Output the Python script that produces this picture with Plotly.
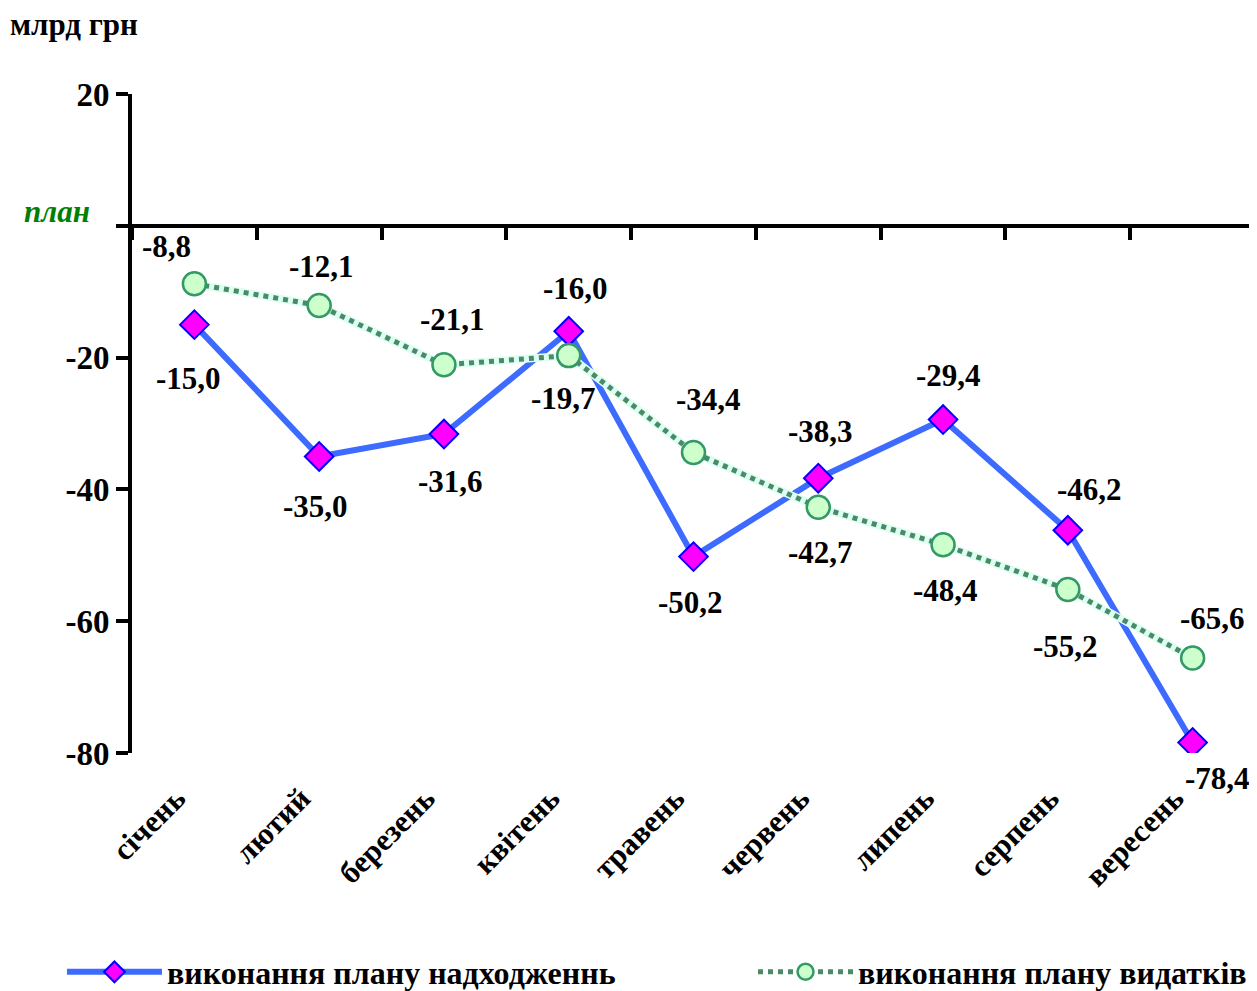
import plotly.graph_objects as go

months = ["січень", "лютий", "березень", "квітень", "травень", "червень", "липень", "серпень", "вересень"]
income = [-15.0, -35.0, -31.6, -16.0, -50.2, -38.3, -29.4, -46.2, -78.4]
spend = [-8.8, -12.1, -21.1, -19.7, -34.4, -42.7, -48.4, -55.2, -65.6]
income_name = "виконання плану надходженнь"
spend_name = "виконання плану видатків"
ytick_vals = [-80, -60, -40, -20, 0, 20]
ytick_text = ["-80", "-60", "-40", "-20", "", "20"]

# label offsets (px): (xshift, yshift)
income_off = [(-6, -54), (-4, -50), (7, -47), (7, 43), (-3, -46), (2, 47), (5, 44), (22, 41), (25, -36)]
spend_off = [(-28, 37), (2, 39), (9, 45), (-5, -43), (15, 53), (2, -45), (2, -46), (-2, -57), (20, 40)]

FONT = "Liberation Serif"
W, H = 1249, 983

def fmt(v):
    return f"{v:.1f}".replace(".", ",")

fig = go.Figure()

fig.add_trace(go.Scatter(
    x=months, y=income, name=income_name, mode="lines+markers", legend="legend",
    line=dict(color="#3D6BFF", width=6),
    marker=dict(symbol="diamond", size=22, color="#FF00FF", line=dict(color="#0000FF", width=2)),
))
fig.add_trace(go.Scatter(
    x=months, y=spend, name=spend_name, mode="lines", showlegend=False,
    line=dict(color="#DCFFF2", width=8), hoverinfo="skip",
))
fig.add_trace(go.Scatter(
    x=months, y=spend, name=spend_name, mode="lines+markers", legend="legend2",
    line=dict(color="#4A8A66", width=5, dash="dot"),
    marker=dict(symbol="circle", size=23, color="#CCFFCC", line=dict(color="#339966", width=2.5)),
))
# invisible trace for the zero-crossing axis
fig.add_trace(go.Scatter(x=months, y=[None] * len(months), xaxis="x2", showlegend=False,
                         hoverinfo="skip", mode="markers"))

LBL = dict(family=FONT, size=31, color="black", weight="bold")
annotations = []
for m, v, (dx, dy) in zip(months, income, income_off):
    annotations.append(dict(x=m, y=v, xref="x", yref="y", text=fmt(v), showarrow=False,
                            xshift=dx, yshift=dy, font=LBL))
for m, v, (dx, dy) in zip(months, spend, spend_off):
    annotations.append(dict(x=m, y=v, xref="x", yref="y", text=fmt(v), showarrow=False,
                            xshift=dx, yshift=dy, font=LBL))
annotations.append(dict(x=-0.0668, y=0, xref="paper", yref="y", yshift=14, xanchor="center",
                        text="план", showarrow=False,
                        font=dict(family=FONT, size=31, color="#008000", style="italic", weight="bold")))

legend_common = dict(orientation="h", xref="container", yref="container",
                     xanchor="left", yanchor="middle", itemwidth=95,
                     font=dict(family=FONT, size=32, color="black", weight="bold"),
                     bgcolor="rgba(0,0,0,0)")

fig.update_layout(
    width=W, height=H,
    margin=dict(l=124, r=2, t=86, b=238, autoexpand=False),
    paper_bgcolor="white", plot_bgcolor="white",
    font=dict(family=FONT, color="black"),
    title=dict(text="млрд грн", xref="container", x=0.0016, xanchor="left",
               yref="container", y=0.984, yanchor="middle",
               font=dict(family=FONT, size=31, color="black", weight="bold")),
    xaxis=dict(type="category", categoryarray=months, range=[-0.5, 8.5],
               showline=False, showgrid=False, zeroline=False, ticks="",
               tickangle=-45, ticklabelstandoff=20, ticklabelshift=-18, automargin=False,
               tickfont=dict(family=FONT, size=31, color="black", weight="bold")),
    xaxis2=dict(type="category", categoryarray=months, range=[-0.5, 8.5], overlaying="x",
                anchor="free", position=0.8, side="bottom", automargin=False,
                showline=True, linecolor="black", linewidth=4,
                ticks="outside", ticklen=12, tickwidth=4, tickcolor="black",
                tickson="boundaries", showticklabels=False, showgrid=False, zeroline=False),
    yaxis=dict(range=[-80, 20], tickvals=ytick_vals, ticktext=ytick_text, automargin=False,
               showline=True, linecolor="black", linewidth=4,
               ticks="outside", ticklen=12, tickwidth=4, tickcolor="black",
               showgrid=False, zeroline=False,
               tickfont=dict(family=FONT, size=33, color="black", weight="bold")),
    legend=dict(legend_common, x=0.0432, y=0.0193),
    legend2=dict(legend_common, x=0.5965, y=0.0193),
    annotations=annotations,
    showlegend=True,
)

fig.write_html("out.html")
